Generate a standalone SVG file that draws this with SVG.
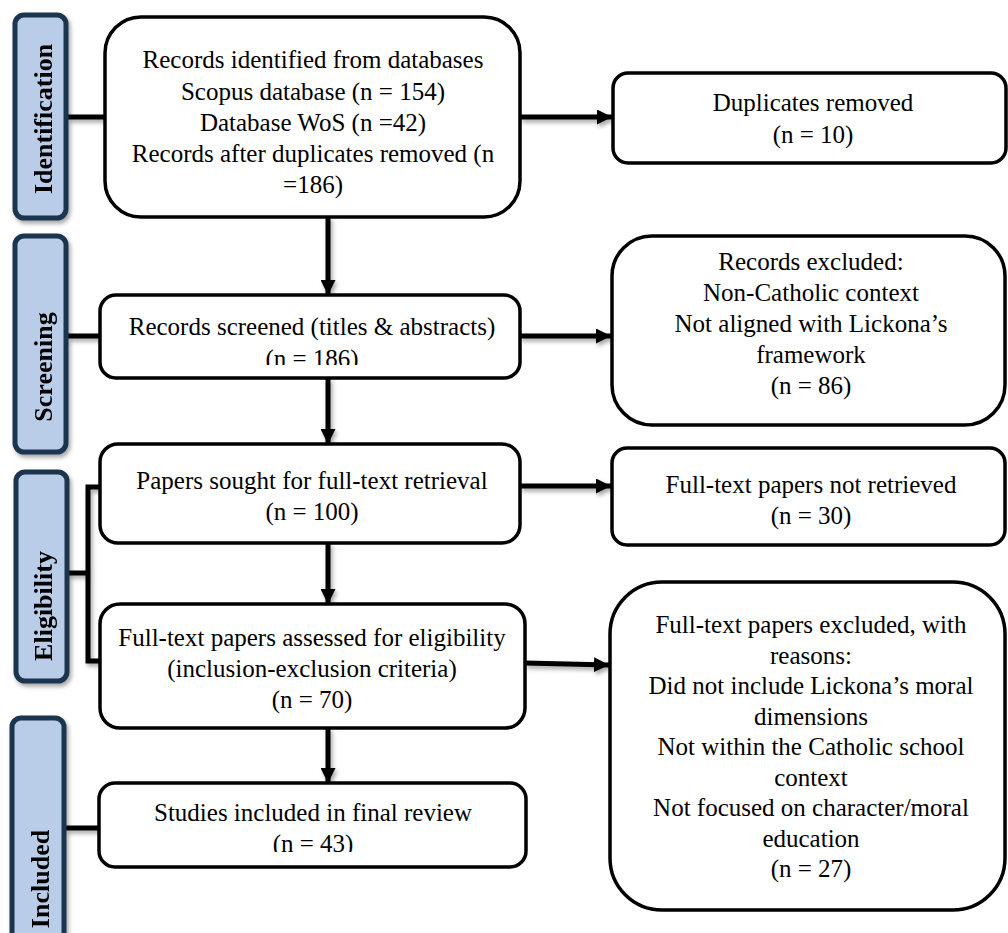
<svg xmlns="http://www.w3.org/2000/svg" width="1008" height="933" viewBox="0 0 1008 933">
<style>
.box{fill:#fff;stroke:#000;stroke-width:3.5}
.side{fill:#B9CDE8;stroke:#1F3550;stroke-width:5}
.t{font-family:"Liberation Serif","Times New Roman",serif;font-size:25px;fill:#000;text-anchor:middle}
.st{font-family:"Liberation Serif","Times New Roman",serif;font-size:26px;font-weight:bold;fill:#000;text-anchor:middle}
.ln{fill:none;stroke:#000;stroke-width:5}
</style>
<defs>
<filter id="sh" x="-20%" y="-20%" width="140%" height="140%">
<feDropShadow dx="2" dy="3" stdDeviation="2" flood-color="#000" flood-opacity="0.35"/>
</filter>
<marker id="ah" viewBox="0 0 10 10" refX="10" refY="5" markerWidth="3" markerHeight="3" orient="auto" markerUnits="strokeWidth">
<path d="M0,0 L10,5 L0,10 Z" fill="#000"/>
</marker>
<clipPath id="c186"><rect x="100" y="290" width="420" height="75"/></clipPath>
<clipPath id="c43"><rect x="100" y="780" width="425" height="72"/></clipPath>
<clipPath id="celig"><rect x="0" y="548" width="120" height="200"/></clipPath>
</defs>

<g id="connectors" filter="url(#sh)">
<line class="ln" x1="68" y1="117" x2="105" y2="117"/>
<line class="ln" x1="68" y1="336" x2="100" y2="336"/>
<polyline class="ln" points="100,487 88,487 88,661 100,661"/>
<line class="ln" x1="68" y1="573" x2="88" y2="573"/>
<line class="ln" x1="66" y1="828" x2="100" y2="828"/>
<line class="ln" x1="520" y1="117" x2="612" y2="117" marker-end="url(#ah)"/>
<line class="ln" x1="328" y1="217" x2="328" y2="295" marker-end="url(#ah)"/>
<line class="ln" x1="520" y1="336" x2="611" y2="336" marker-end="url(#ah)"/>
<line class="ln" x1="328" y1="378" x2="328" y2="444" marker-end="url(#ah)"/>
<line class="ln" x1="520" y1="486" x2="611" y2="486" marker-end="url(#ah)"/>
<line class="ln" x1="328" y1="543" x2="328" y2="604" marker-end="url(#ah)"/>
<line class="ln" x1="525" y1="663" x2="609" y2="665" marker-end="url(#ah)"/>
<line class="ln" x1="328" y1="728" x2="328" y2="783" marker-end="url(#ah)"/>
</g>

<g id="lbl-identification" filter="url(#sh)">
<rect class="side" x="15" y="15" width="51" height="203" rx="9"/>
<text class="st" transform="translate(52,119) rotate(-90)">Identification</text>
</g>
<g id="lbl-screening" filter="url(#sh)">
<rect class="side" x="15" y="236" width="51" height="216" rx="9"/>
<text class="st" transform="translate(52,367) rotate(-90)">Screening</text>
</g>
<g id="lbl-eligibility" filter="url(#sh)">
<rect class="side" x="16" y="472" width="51" height="209" rx="9"/>
<g clip-path="url(#celig)"><text class="st" transform="translate(52,606) rotate(-90)">Eligibility</text></g>
</g>
<g id="lbl-included" filter="url(#sh)">
<rect class="side" x="12" y="718" width="52" height="240" rx="9"/>
<text class="st" transform="translate(49,879) rotate(-90)">Included</text>
</g>

<g id="n-identified">
<rect class="box" x="105" y="17" width="415" height="200" rx="36"/>
<text class="t" x="313" y="68">Records identified from databases</text>
<text class="t" x="313" y="100">Scopus database (n = 154)</text>
<text class="t" x="313" y="131">Database WoS (n =42)</text>
<text class="t" x="313" y="162">Records after duplicates removed (n</text>
<text class="t" x="313" y="193">=186)</text>
</g>
<g id="n-duplicates">
<rect class="box" x="613" y="73" width="393" height="90" rx="15"/>
<text class="t" x="813" y="111">Duplicates removed</text>
<text class="t" x="813" y="143">(n = 10)</text>
</g>
<g id="n-screened">
<rect class="box" x="100" y="295" width="420" height="83" rx="16"/>
<text class="t" x="312" y="335">Records screened (titles &amp; abstracts)</text>
<text class="t" x="312" y="367" clip-path="url(#c186)">(n = 186)</text>
</g>
<g id="n-excluded1">
<rect class="box" x="612" y="236" width="393" height="189" rx="40"/>
<text class="t" x="811" y="270">Records excluded:</text>
<text class="t" x="811" y="301">Non-Catholic context</text>
<text class="t" x="811" y="332">Not aligned with Lickona’s</text>
<text class="t" x="811" y="363">framework</text>
<text class="t" x="811" y="394">(n = 86)</text>
</g>
<g id="n-sought">
<rect class="box" x="100" y="444" width="420" height="99" rx="18"/>
<text class="t" x="312" y="489">Papers sought for full-text retrieval</text>
<text class="t" x="312" y="520">(n = 100)</text>
</g>
<g id="n-notretrieved">
<rect class="box" x="612" y="448" width="393" height="97" rx="15"/>
<text class="t" x="811" y="493">Full-text papers not retrieved</text>
<text class="t" x="811" y="524">(n = 30)</text>
</g>
<g id="n-assessed">
<rect class="box" x="100" y="604" width="425" height="124" rx="20"/>
<text class="t" x="312" y="646">Full-text papers assessed for eligibility</text>
<text class="t" x="312" y="677">(inclusion-exclusion criteria)</text>
<text class="t" x="312" y="708">(n = 70)</text>
</g>
<g id="n-excluded2">
<rect class="box" x="610" y="582" width="395" height="328" rx="52"/>
<text class="t" x="811" y="633">Full-text papers excluded, with</text>
<text class="t" x="811" y="664">reasons:</text>
<text class="t" x="811" y="694">Did not include Lickona’s moral</text>
<text class="t" x="811" y="725">dimensions</text>
<text class="t" x="811" y="755">Not within the Catholic school</text>
<text class="t" x="811" y="786">context</text>
<text class="t" x="811" y="816">Not focused on character/moral</text>
<text class="t" x="811" y="847">education</text>
<text class="t" x="811" y="877">(n = 27)</text>
</g>
<g id="n-included">
<rect class="box" x="99" y="783" width="427" height="84" rx="16"/>
<text class="t" x="313" y="821">Studies included in final review</text>
<text class="t" x="313" y="852" clip-path="url(#c43)">(n = 43)</text>
</g>
</svg>
